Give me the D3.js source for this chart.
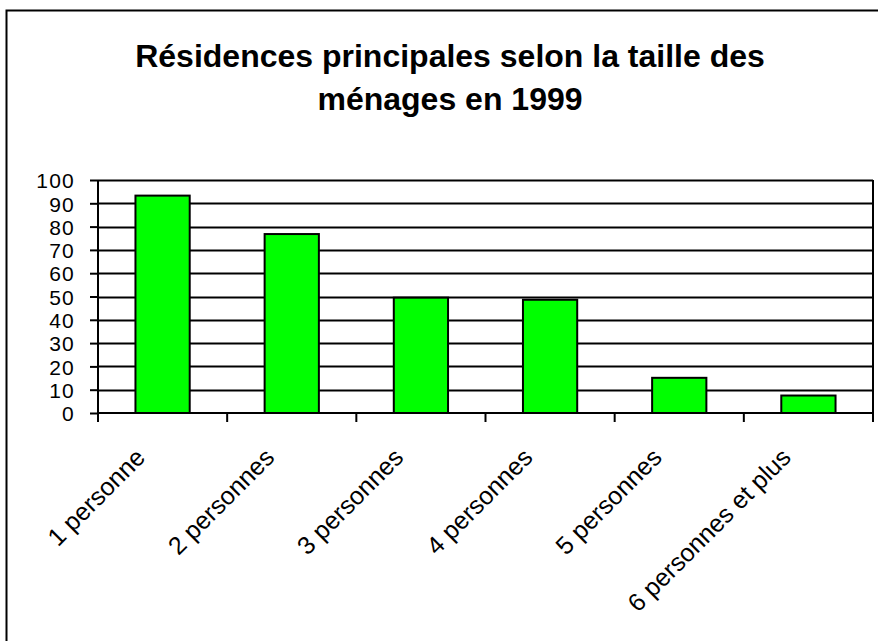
<!DOCTYPE html>
<html><head><meta charset="utf-8">
<script src="https://cdn.jsdelivr.net/npm/d3@7"></script>
<style>body{margin:0;background:#fff}svg{display:block}</style>
</head><body>
<svg id="c" width="878" height="641"></svg>
<script>
const categories = ["1 personne","2 personnes","3 personnes","4 personnes","5 personnes","6 personnes et plus"];
const values = [93.3, 76.8, 49.5, 48.6, 15.1, 7.5];
const yTicks = [0,10,20,30,40,50,60,70,80,90,100];
const titleLines = ["Résidences principales selon la taille des","ménages en 1999"];

const svg = d3.select("#c");
const font = "'Liberation Sans', Arial, sans-serif";
svg.append("rect").attr("x",6.5).attr("y",10.5).attr("width",900).attr("height",700)
  .attr("fill","#fff").attr("stroke","#000").attr("stroke-width",2);

const m = {left:98, right:873, top:180, bottom:413};
const x = d3.scaleBand().domain(categories).range([m.left,m.right]).paddingInner(0.58).paddingOuter(0.29);
const xb = d3.scaleBand().domain(categories).range([m.left,m.right]);
const y = d3.scaleLinear().domain([0,100]).range([m.bottom,m.top]);

// gridlines
svg.append("g").selectAll("line").data(yTicks.filter(d=>d>0)).join("line")
  .attr("x1",m.left).attr("x2",m.right).attr("y1",d=>Math.round(y(d))+0.5).attr("y2",d=>Math.round(y(d))+0.5)
  .attr("stroke","#000").attr("stroke-width",2);
// right edge
svg.append("line").attr("x1",m.right).attr("x2",m.right).attr("y1",m.top).attr("y2",m.bottom+1).attr("stroke","#000").attr("stroke-width",2);

// bars
svg.append("g").selectAll("rect").data(values).join("rect")
  .attr("x",(d,i)=>x(categories[i])).attr("width",x.bandwidth())
  .attr("y",d=>y(d)).attr("height",d=>m.bottom-y(d))
  .attr("fill","#00ff00").attr("stroke","#000").attr("stroke-width",2);

// y axis
const ya = svg.append("g").attr("transform",`translate(${m.left},0)`)
  .call(d3.axisLeft(y).tickValues(yTicks).tickSize(8).tickPadding(15));
ya.selectAll("path,line").attr("stroke","#000").attr("stroke-width",2);
ya.select("path").attr("d",`M0,${m.top}V${m.bottom}`);
ya.selectAll("text").attr("font-family",font).attr("font-size",21).attr("letter-spacing","1.2px")
  .attr("fill","#000").attr("dy","0.37em");

// x axis
const xa = svg.append("g").attr("transform",`translate(0,${m.bottom})`)
  .call(d3.axisBottom(xb).tickSize(0).tickFormat(""));
xa.select("path").attr("d",`M${m.left},0H${m.right}`).attr("stroke","#000").attr("stroke-width",2);
svg.append("g").selectAll("line").data(d3.range(categories.length+1)).join("line")
  .attr("x1",i=>m.left+i*xb.step()).attr("x2",i=>m.left+i*xb.step())
  .attr("y1",m.bottom).attr("y2",m.bottom+9).attr("stroke","#000").attr("stroke-width",2);
svg.append("g").selectAll("text").data(categories).join("text")
  .attr("transform",d=>`translate(${xb(d)+xb.bandwidth()/2-16},${m.bottom+46}) rotate(-45)`)
  .attr("text-anchor","end").attr("font-family",font).attr("font-size",25).attr("fill","#000")
  .text(d=>d);

// title
svg.append("g").selectAll("text").data(titleLines).join("text")
  .attr("x",450).attr("y",(d,i)=>67+i*43).attr("text-anchor","middle")
  .attr("font-family",font).attr("font-weight","bold").attr("font-size",32).attr("fill","#000").text(d=>d);
</script>
</body></html>
